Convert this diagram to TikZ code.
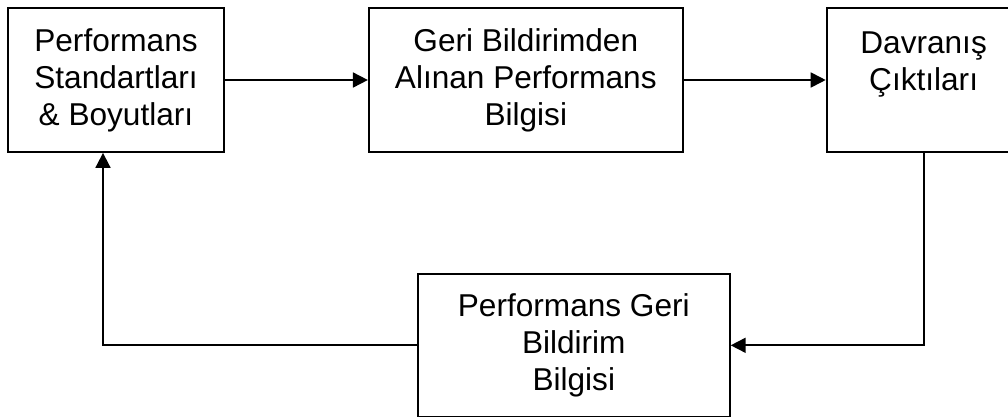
\documentclass[tikz,border=0pt]{standalone}
\usepackage{fontspec}
\setmainfont{Liberation Sans}
\usetikzlibrary{arrows.meta, positioning}

\begin{document}
\begin{tikzpicture}[
    x=1pt, y=1pt,
    node distance=120pt and 143pt,
    box/.style={draw, line width=1.8pt, minimum height=144pt, inner sep=0pt, align=center, font=\fontsize{31.6}{37}\selectfont},
    arrow/.style={-{Triangle[length=15pt, width=15pt]}, line width=1.8pt}
]
\useasboundingbox (0,0) rectangle (1008,-416);
\clip (0,0) rectangle (1008,-416);

% Top row
\node[box, minimum width=216pt] (standards) at (116,-80) {Performans\\Standartları\\\& Boyutları};
\node[box, minimum width=314pt, right=of standards] (info) {Geri Bildirimden\\Alınan Performans\\Bilgisi};
\node[box, minimum width=194pt, right=142pt of info] (outputs) {Davranış\\Çıktıları\\~};

% Bottom row
\node[box, minimum width=312pt, minimum height=143pt, below=120pt of info, xshift=48pt] (feedback) {Performans Geri\\Bildirim\\Bilgisi};

% Arrows top row
\draw[arrow] (standards) -- (info);
\draw[arrow] (info) -- (outputs);

% Feedback loop
\draw[arrow] (outputs.south) |- (feedback.east);
\draw[arrow] (feedback.west) -| ([xshift=-13pt]standards.south);

\end{tikzpicture}
\end{document}
